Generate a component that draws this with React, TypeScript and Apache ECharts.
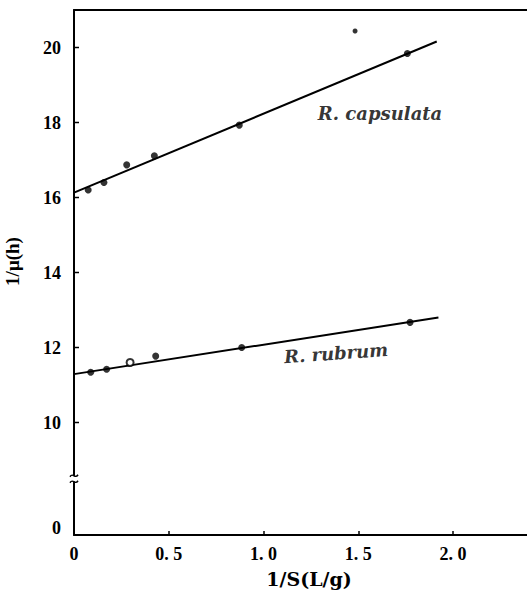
import React, { useEffect, useRef } from "react";
import * as echarts from "echarts";

// R. capsulata measured points (1/S, 1/mu)
const capsulataX = [0.075, 0.158, 0.278, 0.424, 0.872, 1.759];
const capsulataY = [16.2, 16.4, 16.87, 17.11, 17.93, 19.84];
// R. rubrum measured points
const rubrumX = [0.088, 0.172, 0.296, 0.431, 0.885, 1.773];
const rubrumY = [11.34, 11.42, 11.6, 11.77, 12.0, 12.67];
// fitted straight lines (end points)
const capsulataFit = [[0, 16.13], [1.914, 20.16]];
const rubrumFit = [[0, 11.29], [1.923, 12.8]];
// stray printed mark near the top
const strayMark = [[1.483, 20.44]];
// tick values
const yTickValues = [10, 12, 14, 16, 18, 20];
const xTickValues = [0, 0.5, 1.0, 1.5, 2.0];
// axis break (bottom of axis stands for 0)
const yAxisBottom = 7;
const yBreakAt = 8.5;
// annotations
const labelNames = ["R. capsulata", "R. rubrum"];
const labelX = [1.615, 1.383];
const labelY = [18.25, 11.85];
const labelRotate = [0, 4];

const INK = "#000";
const TICK_FONT = "'Liberation Serif', 'Times New Roman', serif";
const NAME_FONT = "'DejaVu Serif', 'Liberation Serif', serif";

export default function App() {
  const ref = useRef<HTMLDivElement>(null);

  useEffect(() => {
    if (!ref.current) return;
    const chart = echarts.init(ref.current, undefined, { renderer: "svg" });

    const option: any = {
      animation: false,
      backgroundColor: "#fff",
      grid: {
        left: 74,
        top: 10,
        width: 470,
        height: 525,
        containLabel: false,
        outerBoundsMode: "none",
        show: false,
      },
      xAxis: [
        {
          type: "value",
          min: 0,
          max: 2.48,
          interval: 0.5,
          name: "1/S(L/g)",
          nameLocation: "middle",
          nameGap: 34,
          nameTextStyle: {
            fontFamily: NAME_FONT,
            fontWeight: "bold",
            fontSize: 19,
            color: INK,
          },
          axisLine: { show: true, onZero: false, lineStyle: { color: INK, width: 2 } },
          axisTick: { show: true, inside: true, length: 4, lineStyle: { color: INK, width: 1.5 } },
          splitLine: { show: false },
          axisLabel: {
            margin: 10,
            fontFamily: TICK_FONT,
            fontWeight: "bold",
            fontSize: 18,
            color: INK,
            showMaxLabel: false,
            formatter: (v: number) => {
              const hit = xTickValues.find((t) => Math.abs(t - v) < 1e-9);
              if (hit === undefined) return "";
              if (hit === 0) return "0";
              return hit.toFixed(1).replace(".", ". ");
            },
          },
        },
        {
          type: "value",
          position: "top",
          min: 0,
          max: 2.48,
          axisLine: { show: true, onZero: false, lineStyle: { color: INK, width: 2 } },
          axisTick: { show: false },
          axisLabel: { show: false },
          splitLine: { show: false },
        },
      ],
      yAxis: {
        type: "value",
        min: yAxisBottom,
        max: 21,
        interval: 1,
        name: "1/μ(h)",
        nameLocation: "middle",
        nameGap: 52,
        nameTextStyle: {
          fontFamily: TICK_FONT,
          fontWeight: "bold",
          fontSize: 19,
          color: INK,
          padding: [0, 0, 0, 22],
        },
        axisLine: { show: true, onZero: false, lineStyle: { color: INK, width: 2 } },
        axisTick: { show: false },
        splitLine: { show: false },
        axisLabel: {
          margin: 13,
          fontFamily: TICK_FONT,
          fontWeight: "bold",
          fontSize: 18,
          color: INK,
          formatter: (v: number) => {
            if (Math.abs(v - yAxisBottom) < 1e-9) return "{z|0}";
            if (yTickValues.some((t) => Math.abs(t - v) < 1e-9)) return String(v);
            return "";
          },
          rich: {
            z: {
              fontFamily: TICK_FONT,
              fontWeight: "bold",
              fontSize: 18,
              color: INK,
              padding: [0, 0, 14, 0],
            },
          },
        },
      },
      series: [
        {
          name: "R. capsulata fit",
          type: "line",
          data: capsulataFit,
          symbol: "none",
          lineStyle: { color: INK, width: 2 },
          z: 3,
        },
        {
          name: "R. rubrum fit",
          type: "line",
          data: rubrumFit,
          symbol: "none",
          lineStyle: { color: INK, width: 2 },
          z: 3,
        },
        {
          name: "R. capsulata",
          type: "scatter",
          data: capsulataX.map((x, i) => [x, capsulataY[i]]),
          symbol: "circle",
          symbolSize: 7,
          itemStyle: { color: INK },
          z: 4,
        },
        {
          name: "R. rubrum",
          type: "scatter",
          data: rubrumX.map((x, i) =>
            i === 2
              ? { value: [x, rubrumY[i]], itemStyle: { color: "#fff", borderColor: INK, borderWidth: 2 } }
              : [x, rubrumY[i]]
          ),
          symbol: "circle",
          symbolSize: 7,
          itemStyle: { color: INK },
          z: 4,
        },
        {
          name: "mark",
          type: "scatter",
          data: strayMark,
          symbol: "circle",
          symbolSize: 5,
          itemStyle: { color: INK },
          z: 4,
        },
        {
          name: "labels",
          type: "scatter",
          data: labelNames.map((n, i) => ({
            value: [labelX[i], labelY[i]],
            name: n,
            label: { rotate: labelRotate[i] },
          })),
          symbolSize: 0,
          silent: true,
          label: {
            show: true,
            position: "inside",
            formatter: (p: any) => p.name,
            fontFamily: NAME_FONT,
            fontWeight: "bold",
            fontStyle: "italic",
            fontSize: 18,
            color: INK,
            textBorderWidth: 0,
          },
          z: 5,
        },
        {
          name: "y ticks",
          type: "custom",
          clip: false,
          silent: true,
          data: yTickValues.map((v) => [0, v]),
          renderItem: (params: any, api: any) => {
            const p = api.coord([api.value(0), api.value(1)]);
            return {
              type: "line",
              shape: { x1: p[0], y1: p[1], x2: p[0] + 5, y2: p[1] },
              style: { stroke: INK, lineWidth: 1.5 },
            };
          },
          z: 4,
        },
        {
          name: "axis break",
          type: "custom",
          clip: false,
          silent: true,
          data: [[0, yBreakAt]],
          renderItem: (params: any, api: any) => {
            const p = api.coord([api.value(0), api.value(1)]);
            const x = p[0];
            const y = p[1];
            return {
              type: "group",
              children: [
                {
                  type: "rect",
                  shape: { x: x - 4, y: y - 3, width: 8, height: 6 },
                  style: { fill: "#fff" },
                },
                {
                  type: "bezierCurve",
                  shape: { x1: x - 4, y1: y - 2, cpx1: x - 1, cpy1: y - 7, cpx2: x + 1, cpy2: y + 1, x2: x + 4, y2: y - 4 },
                  style: { stroke: INK, lineWidth: 1.5, fill: null },
                },
                {
                  type: "bezierCurve",
                  shape: { x1: x - 4, y1: y + 4, cpx1: x - 1, cpy1: y - 1, cpx2: x + 1, cpy2: y + 7, x2: x + 4, y2: y + 2 },
                  style: { stroke: INK, lineWidth: 1.5, fill: null },
                },
              ],
            };
          },
          z: 6,
        },
      ],
    };

    chart.setOption(option);
    return () => chart.dispose();
  }, []);

  return (
    <div
      ref={ref}
      style={{ position: "absolute", left: 0, top: 0, width: 527, height: 594, background: "#fff" }}
    />
  );
}
